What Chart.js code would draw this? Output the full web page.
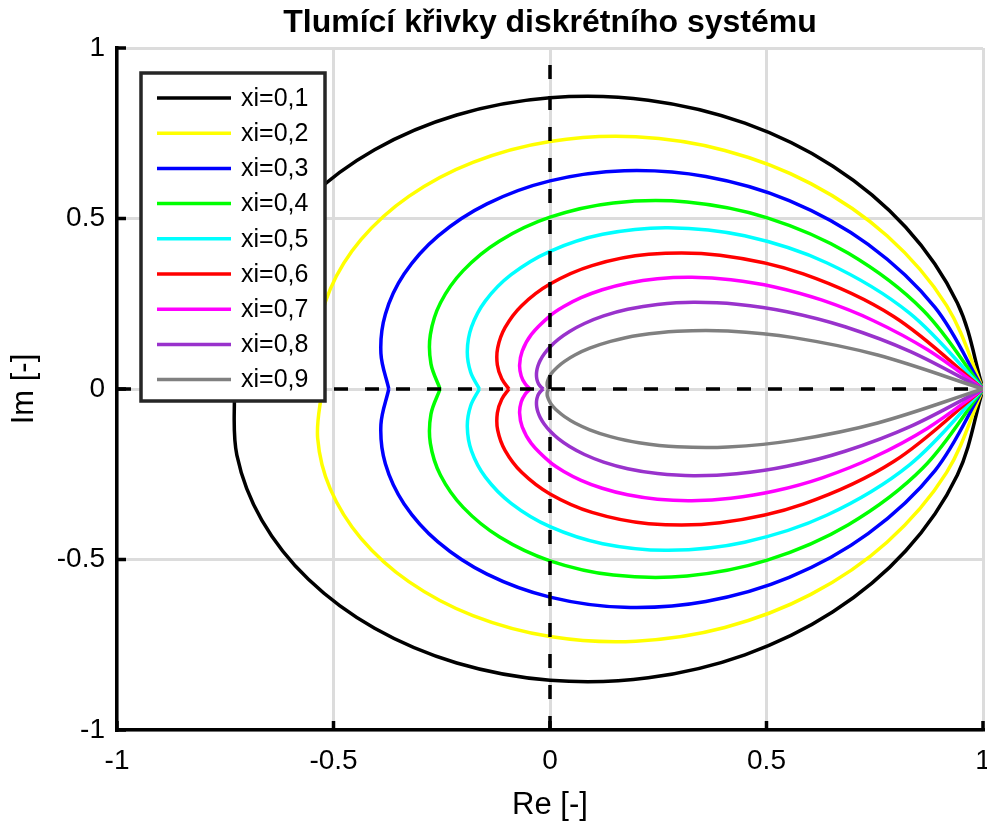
<!DOCTYPE html>
<html>
<head>
<meta charset="utf-8">
<script src="https://cdn.jsdelivr.net/npm/chart.js@4/dist/chart.umd.min.js"></script>
<style>
  body { margin: 0; background: #fff; }
  #wrap { width: 987px; height: 825px; }
</style>
</head>
<body>
<div id="wrap"><canvas id="c" width="987" height="825"></canvas></div>
<script>
// horní polovina každé křivky (Re, Im), dolní je zrcadlová
const xi01 = [[1,0],[0.9408,0.2521],[0.8216,0.4744],[0.6534,0.6534],[0.4501,0.7795],[0.2269,0.8469],[0,0.8540],[-0.2153,0.8035],[-0.4051,0.7017],[-0.5580,0.5580],[-0.6657,0.3843],[-0.7232,0.1938],[-0.7293,0]];
const xi02 = [[1,0],[0.9157,0.2454],[0.7783,0.4493],[0.6024,0.6024],[0.4038,0.6994],[0.1981,0.7394],[0,0.7257],[-0.1781,0.6645],[-0.3261,0.5648],[-0.4371,0.4371],[-0.5075,0.2930],[-0.5366,0.1438],[-0.5266,0]];
const xi03 = [[1,0],[0.8896,0.2384],[0.7346,0.4241],[0.5524,0.5524],[0.3597,0.6230],[0.1715,0.6400],[0,0.6102],[-0.1455,0.5428],[-0.2588,0.4482],[-0.3370,0.3370],[-0.3802,0.2195],[-0.3905,0.1046],[-0.3723,0]];
const xi04 = [[1,0],[0.8616,0.2309],[0.6891,0.3979],[0.5019,0.5019],[0.3166,0.5483],[0.1462,0.5456],[0,0.5038],[-0.1163,0.4341],[-0.2005,0.3472],[-0.2529,0.2529],[-0.2763,0.1595],[-0.2749,0.0737],[-0.2538,0]];
const xi05 = [[1,0],[0.8304,0.2225],[0.6401,0.3696],[0.4493,0.4493],[0.2731,0.4731],[0.1216,0.4537],[0,0.4038],[-0.0898,0.3353],[-0.1492,0.2585],[-0.1814,0.1814],[-0.1910,0.1103],[-0.1832,0.0491],[-0.1630,0]];
const xi06 = [[1,0],[0.7937,0.2127],[0.5848,0.3376],[0.3923,0.3923],[0.2280,0.3949],[0.0970,0.3619],[0,0.3079],[-0.0655,0.2444],[-0.1039,0.1800],[-0.1208,0.1208],[-0.1216,0.0702],[-0.1114,0.0299],[-0.0948,0]];
const xi07 = [[1,0],[0.8721,0.1148],[0.7473,0.2002],[0.6287,0.2604],[0.5184,0.2993],[0.4177,0.3205],[0.3275,0.3275],[0.2480,0.3232],[0.1791,0.3103],[0.1206,0.2911],[0.0717,0.2677],[0.0318,0.2417],[0,0.2145],[-0.0429,0.1603],[-0.0642,0.1112],[-0.0702,0.0702],[-0.0665,0.0384],[-0.0574,0.0154],[-0.0460,0]];
const xi08 = [[1,0],[0.8327,0.1096],[0.6813,0.1826],[0.5473,0.2267],[0.4309,0.2488],[0.3315,0.2544],[0.2481,0.2481],[0.1794,0.2338],[0.1238,0.2144],[0.0796,0.1921],[0.0452,0.1686],[0.0191,0.1454],[0,0.1231],[-0.0135,0.1025],[-0.0225,0.0839],[-0.0279,0.0674],[-0.0306,0.0531],[-0.0313,0.0408],[-0.0306,0.0306],[-0.0288,0.0221],[-0.0264,0.0152],[-0.0237,0.0098],[-0.0208,0.0056],[-0.0179,0.0024],[-0.0152,0]];
const xi09 = [[1,0],[0.7567,0.0996],[0.5626,0.1507],[0.4107,0.1701],[0.2938,0.1696],[0.2054,0.1576],[0.1397,0.1397],[0.0918,0.1196],[0.0575,0.0997],[0.0336,0.0811],[0.0174,0.0647],[0.0067,0.0507],[0,0.0390],[-0.0059,0.0220],[-0.0066,0.0115],[-0.0055,0.0055],[-0.0039,0.0023],[-0.0025,0.0007],[-0.0015,0]];

const curves = [xi01, xi02, xi03, xi04, xi05, xi06, xi07, xi08, xi09];
const labels = ['xi=0,1','xi=0,2','xi=0,3','xi=0,4','xi=0,5','xi=0,6','xi=0,7','xi=0,8','xi=0,9'];
const colors = ['#000000','#ffff00','#0000ff','#00ff00','#00ffff','#ff0000','#ff00ff','#9932cc','#808080'];

const tickValues = [-1, -0.5, 0, 0.5, 1];
const tickLabels = ['-1', '-0.5', '0', '0.5', '1'];

const FONT = "'Liberation Sans', Arial, sans-serif";

const datasets = [];
curves.forEach((pts, i) => {
  const up = pts.map(p => ({x: p[0], y: p[1]}));
  const down = pts.map(p => ({x: p[0], y: -p[1]}));
  [up, down].forEach((d, k) => {
    datasets.push({
      label: k === 0 ? labels[i] : '',
      data: d,
      showLine: true,
      borderColor: colors[i],
      borderWidth: 3.5,
      pointRadius: 0,
      tension: 0.35,
      fill: false,
      order: 20 - i
    });
  });
});
// osy Re = 0 a Im = 0
[[{x:-1,y:0},{x:1,y:0}], [{x:0,y:-1},{x:0,y:1}]].forEach(d => {
  datasets.push({
    label: '',
    data: d,
    showLine: true,
    borderColor: '#000',
    borderWidth: 3.5,
    borderDash: [14, 17],
    pointRadius: 0,
    order: 0
  });
});

const innerTicks = {
  id: 'innerTicks',
  afterDraw(chart) {
    const {ctx, chartArea: a, scales: {x, y}} = chart;
    ctx.save();
    ctx.strokeStyle = '#000';
    ctx.lineWidth = 3.5;
    ctx.beginPath();
    tickValues.forEach(v => {
      const px = x.getPixelForValue(v);
      ctx.moveTo(px, a.bottom); ctx.lineTo(px, a.bottom - 9);
      const py = y.getPixelForValue(v);
      ctx.moveTo(a.left, py); ctx.lineTo(a.left + 9, py);
    });
    ctx.stroke();
    ctx.restore();
  }
};

const boxLegend = {
  id: 'boxLegend',
  afterDraw(chart) {
    const ctx = chart.ctx;
    const items = chart.data.datasets.filter(d => d.label);
    const x0 = 141, y0 = 73, w = 184, h = 328, row = 35.2;
    ctx.save();
    ctx.fillStyle = '#fff';
    ctx.fillRect(x0, y0, w, h);
    ctx.strokeStyle = '#262626';
    ctx.lineWidth = 3.5;
    ctx.strokeRect(x0, y0, w, h);
    ctx.font = '25px ' + FONT;
    ctx.textBaseline = 'middle';
    ctx.textAlign = 'left';
    items.forEach((d, i) => {
      const yy = 98 + i * row;
      ctx.strokeStyle = d.borderColor;
      ctx.lineWidth = 3.5;
      ctx.beginPath();
      ctx.moveTo(157, yy); ctx.lineTo(231, yy);
      ctx.stroke();
      ctx.fillStyle = '#000';
      ctx.fillText(d.label, 241, yy + 1);
    });
    ctx.restore();
  }
};

new Chart(document.getElementById('c'), {
  type: 'scatter',
  data: { datasets },
  options: {
    responsive: false,
    animation: false,
    layout: { padding: { left: 0, right: 4, top: 0, bottom: 0 } },
    plugins: {
      legend: { display: false },
      tooltip: { enabled: false },
      title: {
        display: true,
        fullSize: false,
        text: 'Tlumící křivky diskrétního systému',
        color: '#000',
        font: { family: FONT, size: 32, weight: 'bold', lineHeight: 1.2 },
        padding: { top: 4, bottom: 5.6 }
      }
    },
    scales: {
      x: {
        type: 'linear',
        min: -1, max: 1,
        afterBuildTicks: s => { s.ticks = tickValues.map(v => ({value: v})); },
        afterFit: s => { s.height = 95; s.paddingLeft = 0; s.paddingRight = 0; },
        ticks: {
          color: '#000',
          padding: 14,
          maxRotation: 0,
          font: { family: FONT, size: 28 },
          callback: (v, i) => tickLabels[i]
        },
        grid: { color: '#dcdcdc', lineWidth: 3, drawTicks: false },
        border: { color: '#000', width: 3.5 },
        title: {
          display: true, text: 'Re [-]', color: '#000',
          font: { family: FONT, size: 31, lineHeight: 1.2 },
          padding: { top: 0, bottom: 1 }
        }
      },
      y: {
        type: 'linear',
        min: -1, max: 1,
        afterBuildTicks: s => { s.ticks = tickValues.map(v => ({value: v})); },
        afterFit: s => { s.width = 117; s.paddingTop = 0; s.paddingBottom = 0; },
        ticks: {
          color: '#000',
          padding: 12,
          font: { family: FONT, size: 28 },
          callback: (v, i) => tickLabels[i]
        },
        grid: { color: '#dcdcdc', lineWidth: 3, drawTicks: false },
        border: { color: '#000', width: 3.5 },
        title: {
          display: true, text: 'Im [-]', color: '#000',
          font: { family: FONT, size: 31, lineHeight: 1.2 },
          padding: { top: 6, bottom: 0 }
        }
      }
    }
  },
  plugins: [innerTicks, boxLegend]
});
</script>
</body>
</html>
